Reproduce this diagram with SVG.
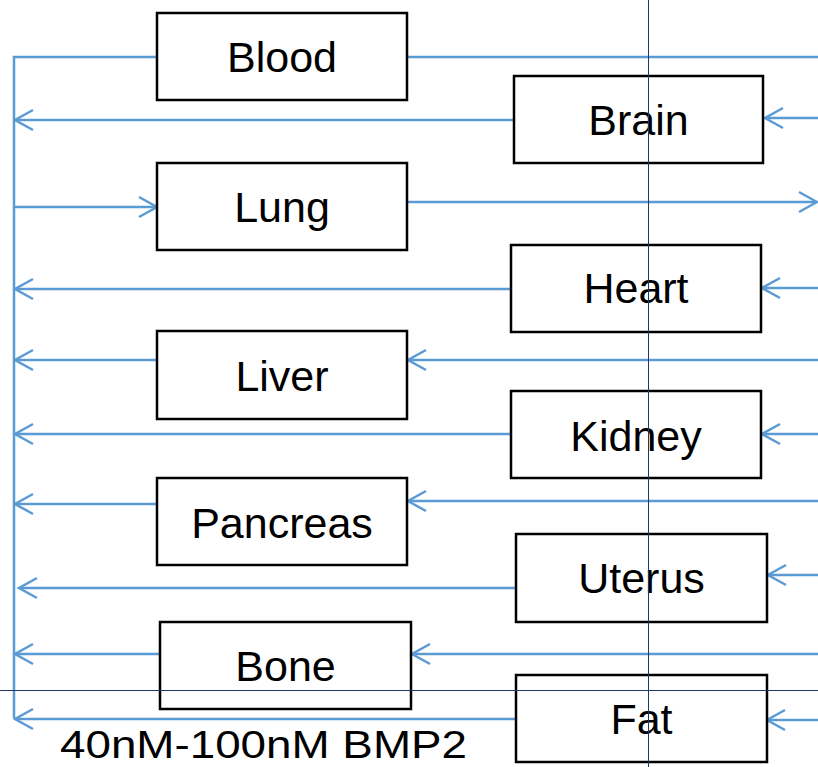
<svg xmlns="http://www.w3.org/2000/svg" width="818" height="767" viewBox="0 0 818 767">
<style>
.box{fill:#fff;stroke:#000;stroke-width:2.5}
.lbl{font-family:"Liberation Sans",Arial,sans-serif;font-size:43px;fill:#000;text-anchor:middle}
.c{fill:none;stroke:#5B9BD5;stroke-width:2.5}
.a{marker-end:url(#ah)}
.g{stroke:#1F3864;stroke-width:1;fill:none}
</style>
<defs>
<marker id="ah" markerUnits="userSpaceOnUse" markerWidth="24" markerHeight="24" viewBox="-20 -12 22 24" refX="0" refY="0" orient="auto" overflow="visible">
<path d="M-18,-10 L0,0 L-18,10" fill="none" stroke="#5B9BD5" stroke-width="2.5"/>
</marker>
</defs>
<rect width="818" height="767" fill="#fff"/>
<g id="connectors">
<path class="c" d="M157,57 H14 V718"/>
<path class="c" d="M407,57 H818"/>
<path class="c a" d="M818,118 H765"/>
<path class="c a" d="M514,120 H15"/>
<path class="c a" d="M14,207 H157"/>
<path class="c a" d="M407,202 H817"/>
<path class="c a" d="M818,288 H762"/>
<path class="c a" d="M511,289 H15"/>
<path class="c a" d="M818,360 H408"/>
<path class="c a" d="M157,360 H15"/>
<path class="c a" d="M818,434 H762"/>
<path class="c a" d="M511,434 H15"/>
<path class="c a" d="M818,501 H408"/>
<path class="c a" d="M157,504 H15"/>
<path class="c a" d="M818,575 H768"/>
<path class="c a" d="M516,588 H19"/>
<path class="c a" d="M818,654 H412"/>
<path class="c a" d="M160,654 H15"/>
<path class="c a" d="M818,720 H767"/>
<path class="c a" d="M516,719 H15"/>
</g>
<g id="blood"><rect class="box" x="157" y="13" width="250" height="87"/><text class="lbl" x="282" y="72">Blood</text></g>
<g id="brain"><rect class="box" x="514" y="76" width="249" height="87"/><text class="lbl" x="638.5" y="135">Brain</text></g>
<g id="lung"><rect class="box" x="157" y="163" width="250" height="87"/><text class="lbl" x="282" y="222">Lung</text></g>
<g id="heart"><rect class="box" x="511" y="245" width="250" height="87"/><text class="lbl" x="636" y="303">Heart</text></g>
<g id="liver"><rect class="box" x="157" y="331" width="250" height="88"/><text class="lbl" x="282" y="391">Liver</text></g>
<g id="kidney"><rect class="box" x="511" y="391" width="250" height="87"/><text class="lbl" x="636" y="451">Kidney</text></g>
<g id="pancreas"><rect class="box" x="157" y="478" width="250" height="87"/><text class="lbl" x="282" y="538">Pancreas</text></g>
<g id="uterus"><rect class="box" x="516" y="534" width="251" height="88"/><text class="lbl" x="641.5" y="593">Uterus</text></g>
<g id="bone"><rect class="box" x="160" y="622" width="251" height="87"/><text class="lbl" x="285.5" y="681">Bone</text></g>
<g id="fat"><rect class="box" x="516" y="675" width="251" height="87"/><text class="lbl" x="641.5" y="734">Fat</text></g>
<g id="guides">
<line class="g" x1="648.5" y1="0" x2="648.5" y2="767"/>
<line class="g" x1="0" y1="690.5" x2="818" y2="690.5"/>
</g>
<text id="caption" x="60" y="758" font-family="'Liberation Sans',Arial,sans-serif" font-size="39" textLength="407" lengthAdjust="spacingAndGlyphs">40nM-100nM BMP2</text>
</svg>
